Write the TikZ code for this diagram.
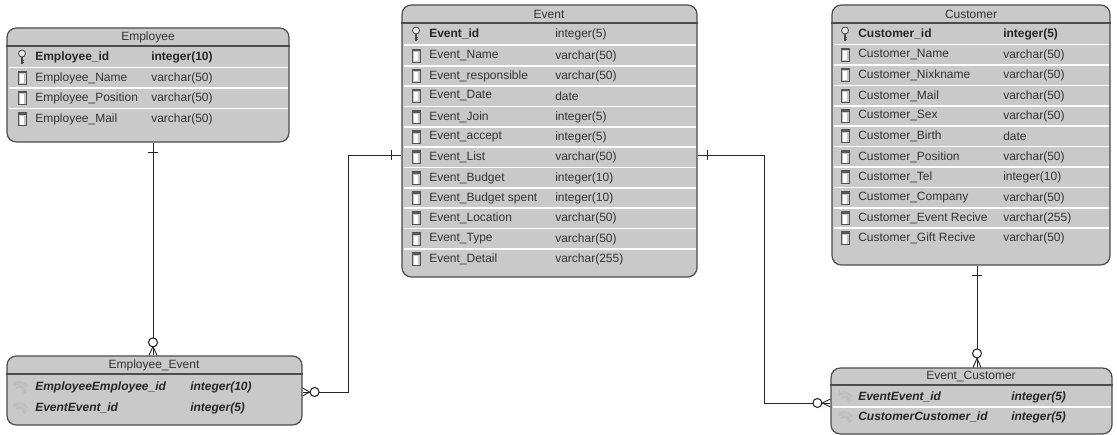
\documentclass[tikz,border=0pt]{standalone}
\usepackage{fontspec}
\setmainfont{Liberation Sans}
\usetikzlibrary{fit,arrows.meta}
\definecolor{tfill}{gray}{0.79}
\definecolor{tline}{gray}{0.30}
\definecolor{ttext}{gray}{0.20}
\definecolor{conncol}{gray}{0.15}
\begin{document}
\begin{tikzpicture}[x=0.75pt,y=-0.75pt,font=\fontsize{9}{11}\selectfont]
\tikzset{
  tbl/.style={draw=tline, line width=0.9pt, fill=tfill, rounded corners=7pt, inner sep=0pt},
  hdr/.style={text=ttext, inner sep=0pt},
  fld/.style={anchor=west, text=ttext, inner sep=0pt},
  keyfld/.style={anchor=west, text=black!85, inner sep=0pt, font=\fontsize{9}{11}\selectfont\bfseries},
  fkfld/.style={anchor=west, text=black!85, inner sep=0pt, font=\fontsize{9}{11}\selectfont\bfseries\itshape},
  hline/.style={draw=tline, line width=0.8pt},
  sepline/.style={draw=white, line width=0.9pt},
  conn/.style={draw=conncol, line width=0.7pt},
  ring/.style={draw=conncol, line width=0.8pt, fill=white},
  colicon/.pic={
    \fill[gray!45] (-4,-6.5) rectangle (4,6.5);
    \fill[gray!70!black] (-4,-6.5) rectangle (4,-4.5);
    \fill[white] (-1.6,-3.5) rectangle (1.6,5.5);
    \draw[gray!65!black, line width=0.4pt] (-4,-6.5) rectangle (4,6.5);
  },
  keyicon/.pic={
    \draw[gray!55!black, line width=0.6pt, fill=gray!20] (0,-3.5) circle (3.5);
    \draw[gray!55!black, line width=1.4pt] (0,-0.2) -- (0,7.5);
    \draw[gray!55!black, line width=0.7pt] (0,3.5) -- (2.2,3.5) (0,5.7) -- (2.2,5.7);
  },
  fkicon/.pic={
    \draw[gray!50, line width=1.8pt, -{Stealth[length=4pt,width=5pt]}] (7,0) .. controls (3,-6) and (-3,-5) .. (-7,-1);
    \draw[gray!50, line width=1.8pt, -{Stealth[length=4pt,width=5pt]}] (-4,1) .. controls (0,-2) and (5,0) .. (4,7);
  }
}
\useasboundingbox (0,0) rectangle (1117,435);

% ---------------- Employee ----------------
\node[tbl, fit={(7,28) (289,142)}] (emp) {};
\node[hdr] (emp-h) at (148,37) {Employee};
\draw[hline] (emp.west |- 0,46) -- (emp.east |- 0,46);
\foreach \yy in {67.5,88,108.5} \draw[sepline] (8.5,\yy) -- (287.5,\yy);
\pic at (22,57) {keyicon};
\node[keyfld] (emp-n1) at (35,57) {Employee\_id};
\node[keyfld] (emp-t1) at (151,57) {integer(10)};
\foreach \yy/\nm/\tp [count=\i from 2] in {78/Employee\_Name/varchar(50),98/Employee\_Position/varchar(50),119/Employee\_Mail/varchar(50)}{
  \pic at (22,\yy) {colicon};
  \node[fld] (emp-n\i) at (35,\yy) {\nm};
  \node[fld] (emp-t\i) at (151,\yy) {\tp};
}

% ---------------- Event ----------------
\node[tbl, fit={(402,5) (697,277)}] (ev) {};
\node[hdr] (ev-h) at (549,14) {Event};
\draw[hline] (ev.west |- 0,23) -- (ev.east |- 0,23);
\foreach \yy in {45,66,86,106.5,127,147,167.5,188,208,228.5,249} \draw[sepline] (403.5,\yy) -- (695.5,\yy);
\pic at (416,34) {keyicon};
\node[keyfld] (ev-n1) at (429,34) {Event\_id};
\node[fld] (ev-t1) at (555,34) {integer(5)};
\foreach \yy/\nm/\tp [count=\i from 2] in {56/Event\_Name/varchar(50),76/Event\_responsible/varchar(50),96/Event\_Date/date,117/Event\_Join/integer(5),137/Event\_accept/integer(5),157/Event\_List/varchar(50),178/Event\_Budget/integer(10),198/Event\_Budget spent/integer(10),218/Event\_Location/varchar(50),239/Event\_Type/varchar(50),259/Event\_Detail/varchar(255)}{
  \pic at (416,\yy) {colicon};
  \node[fld] (ev-n\i) at (429,\yy) {\nm};
  \node[fld] (ev-t\i) at (555,\yy) {\tp};
}

% ---------------- Customer ----------------
\node[tbl, fit={(832,5) (1110,265)}] (cu) {};
\node[hdr] (cu-h) at (971,14) {Customer};
\draw[hline] (cu.west |- 0,23) -- (cu.east |- 0,23);
\foreach \yy in {44.5,65,85.5,106,126,146.5,167,187.5,208,228} \draw[sepline] (833.5,\yy) -- (1108.5,\yy);
\pic at (845,34) {keyicon};
\node[keyfld] (cu-n1) at (858,34) {Customer\_id};
\node[keyfld] (cu-t1) at (1003,34) {integer(5)};
\foreach \yy/\nm/\tp [count=\i from 2] in {55/Customer\_Name/varchar(50),75/Customer\_Nixkname/varchar(50),96/Customer\_Mail/varchar(50),116/Customer\_Sex/varchar(50),136/Customer\_Birth/date,157/Customer\_Position/varchar(50),177/Customer\_Tel/integer(10),198/Customer\_Company/varchar(50),218/Customer\_Event Recive/varchar(255),238/Customer\_Gift Recive/varchar(50)}{
  \pic at (845,\yy) {colicon};
  \node[fld] (cu-n\i) at (858,\yy) {\nm};
  \node[fld] (cu-t\i) at (1003,\yy) {\tp};
}

% ---------------- Employee_Event ----------------
\node[tbl, fit={(7,356) (302,425)}] (ee) {};
\node[hdr] (ee-h) at (154,365) {Employee\_Event};
\draw[hline] (ee.west |- 0,374) -- (ee.east |- 0,374);
\pic at (20,387) {fkicon};
\node[fkfld] (ee-n1) at (35,387) {EmployeeEmployee\_id};
\node[fkfld] (ee-t1) at (190,387) {integer(10)};
\pic at (20,408) {fkicon};
\node[fkfld] (ee-n2) at (35,408) {EventEvent\_id};
\node[fkfld] (ee-t2) at (190,408) {integer(5)};

% ---------------- Event_Customer ----------------
\node[tbl, fit={(831,368) (1112,434)}] (ec) {};
\node[hdr] (ec-h) at (971,376.5) {Event\_Customer};
\draw[hline] (ec.west |- 0,385) -- (ec.east |- 0,385);
\draw[sepline] (832.5,407) -- (1110.5,407);
\pic at (845,397) {fkicon};
\node[fkfld] (ec-n1) at (858,397) {EventEvent\_id};
\node[fkfld] (ec-t1) at (1011,397) {integer(5)};
\pic at (845,417) {fkicon};
\node[fkfld] (ec-n2) at (858,417) {CustomerCustomer\_id};
\node[fkfld] (ec-t2) at (1011,417) {integer(5)};

% ---------------- connectors ----------------
\coordinate (c1x) at (153,0);
\coordinate (c2y) at (0,155);
\coordinate (c2x) at (348,0);
\coordinate (c2b) at (0,392);
\coordinate (c3x) at (764,0);
\coordinate (c3b) at (0,403);
\coordinate (c4x) at (977,0);

% Employee -> Employee_Event
\draw[conn] (emp.south -| c1x) -- (ee.north -| c1x);
\draw[conn] ([shift={(-5,10)}]emp.south -| c1x) -- ++(10,0);
\draw[conn] ([shift={(0,-9)}]ee.north -| c1x) -- ([shift={(-4,0)}]ee.north -| c1x)
            ([shift={(0,-9)}]ee.north -| c1x) -- ([shift={(4,0)}]ee.north -| c1x);
\draw[ring] ([shift={(0,-13)}]ee.north -| c1x) circle (4.5);

% Event -> Employee_Event
\draw[conn] (ev.west |- c2y) -| (c2x |- c2b) -- (ee.east |- c2b);
\draw[conn] ([shift={(-10,-5)}]ev.west |- c2y) -- ++(0,10);
\draw[conn] ([shift={(7,0)}]ee.east |- c2b) -- ([shift={(0,-4)}]ee.east |- c2b)
            ([shift={(7,0)}]ee.east |- c2b) -- ([shift={(0,4)}]ee.east |- c2b);
\draw[ring] ([shift={(12,0)}]ee.east |- c2b) circle (4.5);

% Event -> Event_Customer
\draw[conn] (ev.east |- c2y) -| (c3x |- c3b) -- (ec.west |- c3b);
\draw[conn] ([shift={(10,-5)}]ev.east |- c2y) -- ++(0,10);
\draw[conn] ([shift={(-8,0)}]ec.west |- c3b) -- ([shift={(0,-4)}]ec.west |- c3b)
            ([shift={(-8,0)}]ec.west |- c3b) -- ([shift={(0,4)}]ec.west |- c3b);
\draw[ring] ([shift={(-13,0)}]ec.west |- c3b) circle (4.5);

% Customer -> Event_Customer
\draw[conn] (cu.south -| c4x) -- (ec.north -| c4x);
\draw[conn] ([shift={(-5,10)}]cu.south -| c4x) -- ++(10,0);
\draw[conn] ([shift={(0,-9)}]ec.north -| c4x) -- ([shift={(-4,0)}]ec.north -| c4x)
            ([shift={(0,-9)}]ec.north -| c4x) -- ([shift={(4,0)}]ec.north -| c4x);
\draw[ring] ([shift={(0,-14)}]ec.north -| c4x) circle (4.5);
\end{tikzpicture}
\end{document}
